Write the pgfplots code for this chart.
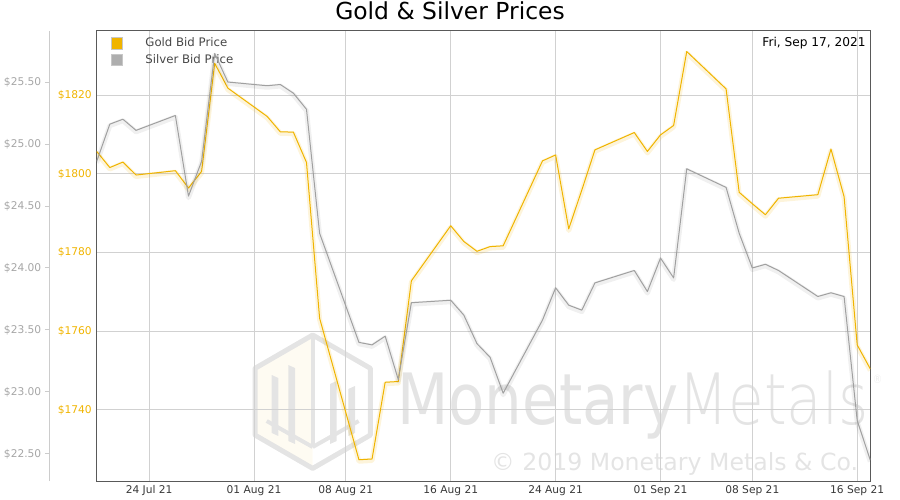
\documentclass[border=0pt]{standalone}
\usepackage{fontspec}
\setmainfont{DejaVu Sans}
\IfFontExistsTF{DejaVuSans-ExtraLight.ttf}{\newfontfamily\wmlight{DejaVuSans-ExtraLight.ttf}}{\newfontfamily\wmlight{DejaVu Sans}}
\usepackage{pgfplots}
\usepackage{pgfplotstable}
\pgfplotsset{compat=1.18}

\definecolor{goldc}{RGB}{240,180,0}
\definecolor{silverc}{RGB}{160,160,160}
\definecolor{wm}{RGB}{228,228,228}
\newcommand{\legfont}{\fontsize{11.8}{13}\selectfont}

\pgfplotstableread{
d price
-4 1805.7
-3 1801.6
-2 1803.0
-1 1799.7
2 1800.8
3 1796.4
4 1800.6
5 1828.1
6 1821.8
9 1814.6
10 1810.7
11 1810.6
12 1802.9
13 1763.3
16 1727.3
17 1727.5
18 1747.0
19 1747.2
20 1772.8
23 1786.8
24 1782.8
25 1780.3
26 1781.5
27 1781.7
30 1803.3
31 1804.8
32 1786.0
33 1795.9
34 1806.1
37 1810.5
38 1805.7
39 1809.9
40 1812.3
41 1831.1
44 1821.6
45 1795.3
46 1792.4
47 1789.6
48 1793.8
51 1794.7
52 1806.3
53 1794.2
54 1756.5
55 1750.4
}\golddata

\pgfplotstableread{
d price
-4 24.86
-3 25.16
-2 25.20
-1 25.11
2 25.23
3 24.58
4 24.86
5 25.73
6 25.50
9 25.47
10 25.48
11 25.41
12 25.28
13 24.28
16 23.40
17 23.38
18 23.45
19 23.10
20 23.72
23 23.74
24 23.62
25 23.39
26 23.28
27 22.99
30 23.58
31 23.84
32 23.70
33 23.66
34 23.88
37 23.98
38 23.81
39 24.08
40 23.92
41 24.80
44 24.65
45 24.28
46 24.00
47 24.03
48 23.98
51 23.77
52 23.80
53 23.77
54 22.77
55 22.45
}\silverdata

\begin{document}
\begin{tikzpicture}
\useasboundingbox (-96.7bp,-19bp) rectangle (803.3bp,481bp);

% title
\node[anchor=base, font=\fontsize{23.5}{26}\selectfont, text=black] at (353.3bp,461.5bp) {Gold \& Silver Prices};

% watermark logo
\begin{scope}[line join=round]
\fill[goldc, opacity=0.05] (216bp,79.3bp) -- (216bp,146bp) -- (158.3bp,112.65bp) -- (158.3bp,45.95bp) -- (216bp,12.6bp) -- cycle;
\draw[wm, line width=5bp] (216bp,146bp) -- (273.7bp,112.65bp) -- (273.7bp,45.95bp) -- (216bp,12.6bp) -- (158.3bp,45.95bp) -- (158.3bp,112.65bp) -- cycle;
\draw[wm, line width=4bp] (216bp,146bp) -- (216bp,34bp);
\draw[wm, line width=4bp] (216bp,34bp) -- (170bp,60bp);
\draw[wm, line width=4bp] (216bp,34bp) -- (262bp,60bp);
\fill[wm] (175bp,48bp) -- (181.6bp,45bp) -- (181.6bp,103bp) -- (175bp,106bp) -- cycle;
\fill[wm] (191.6bp,40bp) -- (198.3bp,37bp) -- (198.3bp,113bp) -- (191.6bp,116bp) -- cycle;
\fill[wm] (233.3bp,37bp) -- (240bp,40bp) -- (240bp,100bp) -- (233.3bp,97bp) -- cycle;
\fill[wm] (251.6bp,45bp) -- (258.3bp,48bp) -- (258.3bp,95bp) -- (251.6bp,92bp) -- cycle;
\end{scope}
% watermark text
\node[anchor=base west, inner sep=0pt, font=\fontsize{71}{80}\selectfont, text=wm, xscale=0.84] at (300.3bp,56bp) {Monetary};
\node[anchor=base west, inner sep=0pt, font=\wmlight\fontsize{71}{80}\selectfont, text=wm, xscale=0.82] at (581.5bp,56bp) {Metals\hspace{5bp}\raisebox{41bp}{\fontsize{11.5}{12}\selectfont ®}};
\node[anchor=base east, inner sep=0pt, font=\fontsize{23.7}{26}\selectfont, text=wm] at (761.6bp,11bp) {© 2019 Monetary Metals \& Co.};

% gold axis
\begin{axis}[
  scale only axis, width=773.6bp, height=450.3bp,
  at={(0,0)}, anchor=south west,
  xmin=-4, xmax=55, ymin=1721.9, ymax=1836.4,
  axis line style={draw=black!65, line width=1bp},
  xtick={0,8,15,23,31,39,46,54},
  xticklabels={24 Jul 21,01 Aug 21,08 Aug 21,16 Aug 21,24 Aug 21,01 Sep 21,08 Sep 21,16 Sep 21},
  ytick={1740,1760,1780,1800,1820},
  yticklabels={\$1740,\$1760,\$1780,\$1800,\$1820},
  grid=major, major grid style={black!18, line width=0.8bp},
  major tick length=0pt,
  tick label style={font=\fontsize{10.7}{12}\selectfont},
  xticklabel style={text=black!78, yshift=-1bp},
  yticklabel style={text=goldc, xshift=-1.5bp},
  legend cell align=left,
  legend style={at={(axis description cs:0,1)}, anchor=north west, xshift=14bp, yshift=-6bp,
    draw=none, fill=none, inner sep=0pt, row sep=2.7bp,
    font=\legfont, text=black!72,
    nodes={inner sep=1bp, text height=9bp, text depth=2.5bp, font=\legfont}},
]
\addlegendimage{legend image code/.code={\draw[fill=goldc, draw=black!22, line width=1bp] (0bp,-5.8bp) rectangle (11.6bp,5.8bp); \path[draw=none, fill=none] (0bp,0bp) rectangle (33bp,0.1bp);}}
\addlegendentry{Gold Bid Price}
\addlegendimage{legend image code/.code={\draw[fill=silverc!85, draw=black!22, line width=1bp] (0bp,-5.8bp) rectangle (11.6bp,5.8bp); \path[draw=none, fill=none] (0bp,0bp) rectangle (33bp,0.1bp);}}
\addlegendentry{Silver Bid Price}
\addplot[forget plot, goldc, opacity=0.14, line width=5bp, yshift=-1.5bp, line join=round] table[x=d, y=price] {\golddata};
\addplot[forget plot, goldc, line width=1bp, line join=round] table[x=d, y=price] {\golddata};
\end{axis}

% silver data axis (overlay)
\begin{axis}[
  scale only axis, width=773.6bp, height=450.3bp,
  at={(0,0)}, anchor=south west,
  xmin=-4, xmax=55, ymin=22.282, ymax=25.914,
  hide axis,
]
\addplot[black, opacity=0.06, line width=5bp, yshift=-1.5bp, line join=round] table[x=d, y=price] {\silverdata};
\addplot[silverc, line width=1bp, line join=round] table[x=d, y=price] {\silverdata};
\end{axis}

% silver scale axis (offset to the left)
\begin{axis}[
  scale only axis, width=1bp, height=450.3bp,
  at={(-47.4bp,0)}, anchor=south west,
  xmin=0, xmax=1, ymin=22.282, ymax=25.914,
  axis y line*=left, axis x line=none,
  y axis line style={draw=black!20, line width=1bp},
  ytick={22.5,23,23.5,24,24.5,25,25.5},
  yticklabels={\$22.50,\$23.00,\$23.50,\$24.00,\$24.50,\$25.00,\$25.50},
  tick align=outside, major tick length=4.5bp,
  ytick style={draw=black!20, line width=1bp},
  yticklabel style={text=black!35, font=\fontsize{10.7}{12}\selectfont},
]
\end{axis}

% date stamp
\node[anchor=east, inner sep=0pt, font=\fontsize{12.2}{14}\selectfont, text=black] at (769bp,437.5bp) {Fri, Sep 17, 2021};
\end{tikzpicture}
\end{document}
